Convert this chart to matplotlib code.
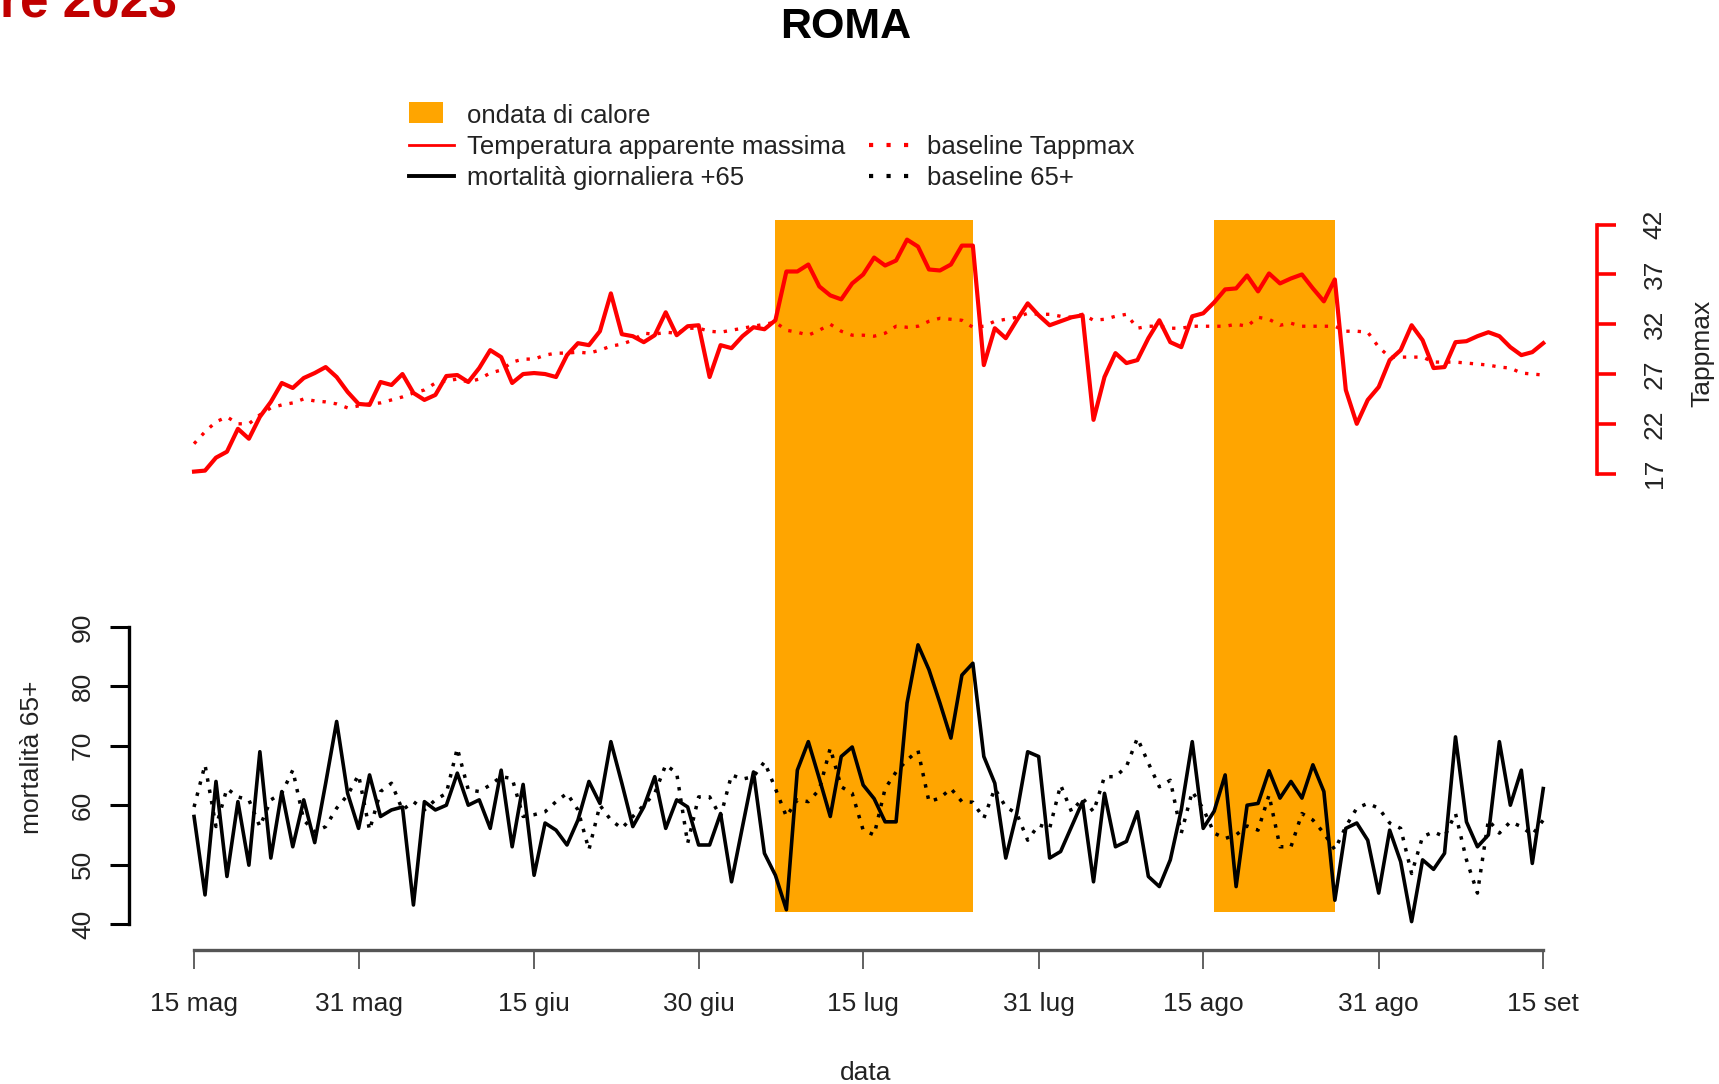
import numpy as np
import matplotlib
matplotlib.use("Agg")
import matplotlib.pyplot as plt
import matplotlib.patches as mpatches
from matplotlib.lines import Line2D
from matplotlib.legend_handler import HandlerPatch

plt.rcParams['font.family'] = ['Liberation Sans', 'DejaVu Sans']

# daily values, 15 mag -> 15 set 2023 (index = days since 15 mag)
tappmax = [17.2, 17.3, 18.6, 19.2, 21.5, 20.5, 22.7, 24.2, 26.1, 25.6, 26.6, 27.1, 27.7, 26.7, 25.2, 24.0,
           23.9, 26.2, 25.9, 27.0, 25.1, 24.4, 24.9, 26.8, 26.9, 26.2, 27.6, 29.4, 28.7, 26.1, 27.0, 27.1,
           27.0, 26.7, 28.9, 30.1, 29.9, 31.3, 35.1, 31.0, 30.8, 30.2, 30.9, 33.2, 30.9, 31.8, 31.9, 26.7,
           29.9, 29.6, 30.8, 31.7, 31.5, 32.4, 37.3, 37.3, 38.0, 35.8, 34.9, 34.5, 36.1, 37.0, 38.7, 37.9,
           38.4, 40.5, 39.8, 37.5, 37.4, 38.0, 39.9, 39.9, 27.9, 31.6, 30.6, 32.4, 34.1, 32.9, 31.9, 32.3,
           32.7, 32.9, 22.4, 26.7, 29.1, 28.1, 28.4, 30.6, 32.4, 30.2, 29.7, 32.8, 33.1, 34.2, 35.5, 35.6,
           36.9, 35.3, 37.1, 36.1, 36.6, 37.0, 35.6, 34.3, 36.5, 25.4, 22.0, 24.4, 25.7, 28.4, 29.4, 31.9,
           30.4, 27.6, 27.7, 30.2, 30.3, 30.8, 31.2, 30.8, 29.7, 28.9, 29.2, 30.1]
base_tappmax = [20.0, 21.2, 22.2, 22.7, 22.0, 22.0, 22.9, 23.6, 23.9, 24.1, 24.5, 24.3, 24.2, 24.0, 23.6, 23.8,
                24.0, 24.1, 24.4, 24.7, 25.1, 25.4, 26.1, 26.3, 26.5, 26.2, 26.5, 27.1, 27.4, 28.2, 28.5, 28.5,
                28.9, 29.1, 29.1, 29.2, 29.1, 29.4, 29.8, 30.0, 30.4, 31.1, 31.0, 31.2, 31.1, 31.6, 31.6, 31.3,
                31.2, 31.4, 31.6, 31.8, 32.0, 32.2, 31.4, 31.2, 30.9, 31.4, 32.0, 31.3, 30.9, 30.9, 30.8, 31.1,
                31.8, 31.7, 31.8, 32.3, 32.6, 32.5, 32.4, 31.7, 31.8, 32.3, 32.5, 32.7, 33.1, 33.0, 33.0, 32.8,
                32.7, 33.0, 32.4, 32.5, 32.8, 33.0, 31.6, 31.8, 31.8, 31.6, 31.6, 31.8, 31.8, 31.8, 31.8, 32.0,
                31.8, 32.7, 32.5, 31.9, 32.1, 31.8, 31.8, 31.8, 31.8, 31.3, 31.3, 31.2, 29.7, 28.7, 28.7, 28.7,
                28.7, 28.2, 28.2, 28.2, 28.1, 28.0, 27.9, 27.7, 27.6, 27.1, 27.0, 26.9]
mort65 = [58.1, 44.9, 64.0, 48.0, 60.6, 49.9, 69.0, 51.1, 62.3, 53.0, 60.9, 53.7, 63.7, 74.1, 62.0, 56.1,
          65.1, 58.1, 59.2, 59.7, 43.2, 60.6, 59.2, 60.0, 65.4, 60.0, 60.9, 56.1, 65.9, 53.0, 63.5, 48.2,
          57.0, 55.8, 53.3, 57.5, 64.0, 60.3, 70.7, 63.7, 56.4, 59.7, 64.8, 56.1, 60.9, 59.7, 53.3, 53.3,
          58.6, 47.1, 56.4, 65.6, 51.9, 48.2, 42.4, 65.9, 70.7, 64.5, 58.1, 68.2, 69.8, 63.4, 61.1, 57.2,
          57.2, 77.2, 87.0, 82.8, 77.2, 71.3, 81.9, 83.9, 68.2, 63.7, 51.1, 58.6, 69.0, 68.2, 51.1, 52.2,
          56.4, 60.6, 47.1, 62.0, 53.0, 53.9, 58.9, 48.0, 46.3, 50.8, 59.2, 70.7, 56.1, 59.0, 65.1, 46.3,
          60.0, 60.3, 65.8, 61.2, 64.0, 61.2, 66.8, 62.3, 44.0, 56.1, 57.0, 54.1, 45.2, 55.8, 50.5, 40.4,
          50.8, 49.2, 51.9, 71.5, 57.2, 53.0, 55.0, 70.7, 60.0, 65.9, 50.2, 62.8]
base_mort65 = [59.7, 66.8, 56.4, 62.8, 61.4, 60.9, 56.4, 60.9, 62.0, 65.9, 57.5, 55.5, 56.4, 59.5, 61.7, 65.1,
               55.8, 62.3, 63.7, 59.2, 60.6, 59.2, 60.9, 62.0, 69.6, 62.6, 62.3, 63.4, 64.8, 64.5, 58.1, 58.4,
               58.9, 60.6, 62.0, 59.2, 52.5, 60.0, 57.5, 56.1, 58.1, 60.0, 62.0, 66.8, 65.4, 53.6, 61.4, 61.4,
               58.1, 65.1, 64.4, 64.8, 67.3, 62.8, 58.1, 60.9, 60.6, 62.6, 69.6, 63.1, 62.0, 55.8, 55.0, 62.8,
               65.6, 67.6, 69.2, 60.6, 61.2, 62.8, 60.6, 60.5, 57.8, 62.8, 59.7, 58.6, 54.1, 56.7, 56.1, 63.4,
               58.9, 61.2, 58.9, 64.8, 64.8, 66.5, 71.3, 67.1, 63.1, 64.2, 55.3, 62.3, 59.4, 55.3, 54.4, 55.0,
               56.5, 55.8, 61.7, 53.0, 53.0, 58.6, 57.5, 55.3, 52.5, 56.4, 59.5, 60.3, 59.5, 57.0, 56.1, 48.5,
               54.7, 55.5, 54.7, 58.6, 50.8, 45.2, 57.5, 55.3, 57.2, 56.4, 55.0, 57.5]

# heat waves (start day, end day)
heat_waves = [(53, 71), (93, 104)]

tick_days = [0, 15, 31, 46, 61, 77, 92, 108, 123]
tick_labels = ['15 mag', '31 mag', '15 giu', '30 giu', '15 lug', '31 lug', '15 ago', '31 ago', '15 set']
mort_ticks = [40, 50, 60, 70, 80, 90]
temp_ticks = [17, 22, 27, 32, 37, 42]

days = np.arange(len(tappmax))
txt_col = '#222222'

fig = plt.figure(figsize=(17.19, 10.84), dpi=100)
ax = fig.add_axes([129 / 1719, 1 - 950 / 1084, 1468 / 1719, 750 / 1084])
ax.patch.set_visible(False)
ax.set_xlim(-5.93, 127.9)
ax.set_ylim(35.62, 161.9)

for start, end in heat_waves:
    ax.axvspan(start, end, ymin=0.051, ymax=0.973, color='orange', lw=0, zorder=0)

ax.plot(days, base_mort65, color='black', lw=2.5, ls=(0, (1, 2.3)), zorder=2)
ax.plot(days, mort65, color='black', lw=2.6, zorder=3)

ax2 = ax.twinx()
ax2.set_ylim(-30.85, 44.48)
ax2.plot(days, base_tappmax, color='red', lw=2.4, ls=(0, (1, 2.4)), zorder=2)
ax2.plot(days, tappmax, color='red', lw=3.0, zorder=3)

# axes styling (R-like detached axes)
for s in ['top', 'right']:
    ax.spines[s].set_visible(False)
for s in ['top', 'left', 'bottom']:
    ax2.spines[s].set_visible(False)

ax.set_xticks(tick_days)
ax.set_xticklabels(tick_labels)
ax.spines['bottom'].set_bounds(0, 123)
ax.spines['bottom'].set_color('#555555')
ax.spines['bottom'].set_linewidth(2.4)
ax.tick_params(axis='x', length=13.5, width=1.3, color='#555555', pad=17,
               labelsize=19, labelcolor=txt_col)

ax.set_yticks(mort_ticks)
ax.spines['left'].set_bounds(40, 90)
ax.spines['left'].set_linewidth(2.4)
ax.tick_params(axis='y', length=13.5, width=2.2, pad=11, labelsize=19,
               labelcolor=txt_col, labelrotation=90)
for lab in ax.get_yticklabels():
    lab.set_va('center')

ax2.set_yticks(temp_ticks)
ax2.spines['right'].set_bounds(17, 42)
ax2.spines['right'].set_color('red')
ax2.spines['right'].set_linewidth(2.6)
ax2.tick_params(axis='y', length=14, width=2.6, color='red', pad=19, labelsize=19,
                labelcolor=txt_col, labelrotation=90)
for lab in ax2.get_yticklabels():
    lab.set_va('center')

# axis titles centred on their own scale, as in the R figure
fig.text(866 / 1719, 1 - 1073 / 1084, 'data', fontsize=19, color=txt_col, ha='center', va='center')
fig.text(32 / 1719, 1 - 757 / 1084, 'mortalità 65+', fontsize=19, color=txt_col,
         rotation=90, ha='center', va='center')
fig.text(1702 / 1719, 1 - 353 / 1084, 'Tappmax', fontsize=19, color=txt_col,
         rotation=90, ha='center', va='center')

fig.text(846 / 1719, 1 - 27 / 1084, 'ROMA', fontsize=31, fontweight='bold', ha='center', va='center')
fig.text(0.0, 1 - 17 / 1084, 're 2023', fontsize=37, fontweight='bold', color='#C00000',
         ha='left', va='baseline')


def box_handle(legend, orig_handle, xdescent, ydescent, width, height, fontsize):
    return mpatches.Rectangle((-xdescent, -ydescent), width * 0.76, height + 2)


handles = [
    mpatches.Patch(facecolor='orange', edgecolor='none', label='ondata di calore'),
    Line2D([], [], color='red', lw=2.0, label='Temperatura apparente massima'),
    Line2D([], [], color='black', lw=2.8, label='mortalità giornaliera +65'),
    Line2D([], [], color='none', label=' '),
    Line2D([], [], color='red', lw=3.0, ls=(0, (1, 3.2)), label='baseline Tappmax'),
    Line2D([], [], color='black', lw=3.0, ls=(0, (1, 3.2)), label='baseline 65+'),
]
fig.legend(handles=handles, ncol=2, loc='upper left', bbox_to_anchor=(409 / 1719, 1 - 104 / 1084),
           frameon=False, fontsize=18.5, handlelength=1.75, handletextpad=0.5, columnspacing=0.95,
           labelspacing=0.27, borderpad=0, borderaxespad=0, labelcolor=txt_col,
           handler_map={mpatches.Patch: HandlerPatch(patch_func=box_handle)})

fig.savefig('out.png', dpi=100)
